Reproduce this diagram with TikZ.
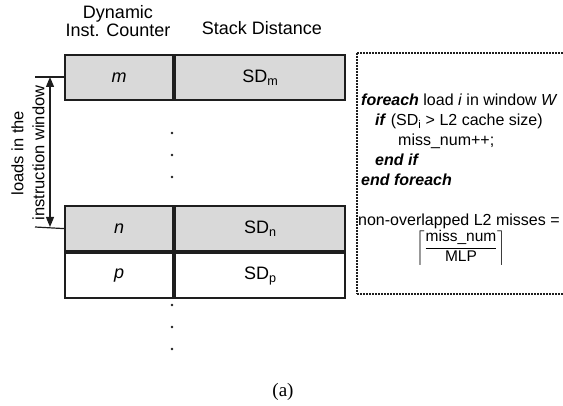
\documentclass[tikz,border=0pt]{standalone}
\usepackage{fontspec}
\usepackage{amsmath}
\setmainfont{Liberation Sans}
\newfontfamily\capfont{Liberation Serif}
\usetikzlibrary{positioning, arrows.meta}
\definecolor{rowgray}{RGB}{217,217,217}
\definecolor{linecol}{RGB}{30,30,30}

\begin{document}
\begin{tikzpicture}[
			x=1pt, y=-1pt,
			cell/.style={
				draw=linecol,
				line width=2.2pt,
				rectangle,
				minimum height=45pt,
				inner sep=0pt,
				font=\fontsize{18}{20}\selectfont
			},
			countcell/.style={cell, minimum width=108pt},
			sdcell/.style={cell, minimum width=170pt},
			grayrow/.style={fill=rowgray},
			headtext/.style={
				inner sep=0pt,
				align=center,
				font=\fontsize{18}{18.5}\selectfont
			},
			codeline/.style={
				anchor=base west,
				inner sep=0pt,
				font=\fontsize{16}{18}\selectfont
			},
			window/.style={
				draw=linecol,
				line width=1.2pt
			},
			dotline/.style={
				draw=linecol,
				line width=1.3pt,
				dash pattern=on 2pt off 1pt
			},
			every edge/.style={
				draw=linecol,
				{Triangle[width=8pt,length=10pt]}-{Triangle[width=8pt,length=10pt]},
				line width=1.2pt
			}
			]
			\useasboundingbox (0,0) rectangle (563,406);

			% Headers
			\node[headtext] (hcount) at (118,21) {Dynamic\\Inst. Counter};
			\node[headtext, anchor=base] (hsd) at (262,34.5) {Stack Distance};

			% Table rows
			\node[countcell, grayrow, anchor=north west] (m) at (64,54) {\textit{m}};
			\node[sdcell, grayrow] (sdm) [right=0pt of m] {SD\textsubscript{m}};
			\node[countcell, grayrow, anchor=north west] (n) at (64,205) {\textit{n}};
			\node[sdcell, grayrow] (sdn) [right=0pt of n] {SD\textsubscript{n}};
			\node[countcell] (p) [below=0pt of n] {\textit{p}};
			\node[sdcell] (sdp) [right=0pt of p] {SD\textsubscript{p}};

			% Dots
			\foreach \y in {133,155,177,305,327,349}
				\fill[linecol] (172,\y) circle (1.3pt);

			% Instruction window
			\coordinate (wtop) at (35,77);
			\coordinate (wbot) at (35,227);
			\coordinate (atop) at (50,77);
			\coordinate (abot) at (50,227);
			\draw[window] (wtop) -- (wtop -| m.west);
			\draw[window] (wbot) -- (n.west);
			\path (atop) edge (abot);
			\node[headtext, rotate=90, font=\fontsize{16.5}{21}\selectfont] (wlabel) at (28,153)
				{loads in the\\instruction window};

			% Miss calculation
			\draw[dotline] (357,53) -- (563,53);
			\draw[dotline] (357,53) -- (357,294);
			\draw[dotline] (357,294) -- (563,294);
			\node[codeline] (c1) at (361,106) {\textbf{\textit{foreach}} load \textit{i} in window \textit{W}};
			\node[codeline] (c2) at (375,126) {\textbf{\textit{if}} (SD\textsubscript{i} > L2 cache size)};
			\node[codeline] (c3) at (398,146) {miss\_num++;};
			\node[codeline] (c4) at (375,166) {\textbf{\textit{end if}}};
			\node[codeline] (c5) at (361,186) {\textbf{\textit{end foreach}}};
			\node[codeline] (c6) at (358,226) {non-overlapped L2 misses =};
			\node[inner sep=0pt, font=\fontsize{15.5}{18}\selectfont] (frac) at (461,248)
				{$\displaystyle\biggl\lceil\frac{\text{miss\_num}}{\text{MLP}}\biggr\rceil$};

			% Caption
			\node[inner sep=0pt, anchor=base, font=\capfont\fontsize{19}{22}\selectfont] (cap) at (283,396) {(a)};
		\end{tikzpicture}
\end{document}
